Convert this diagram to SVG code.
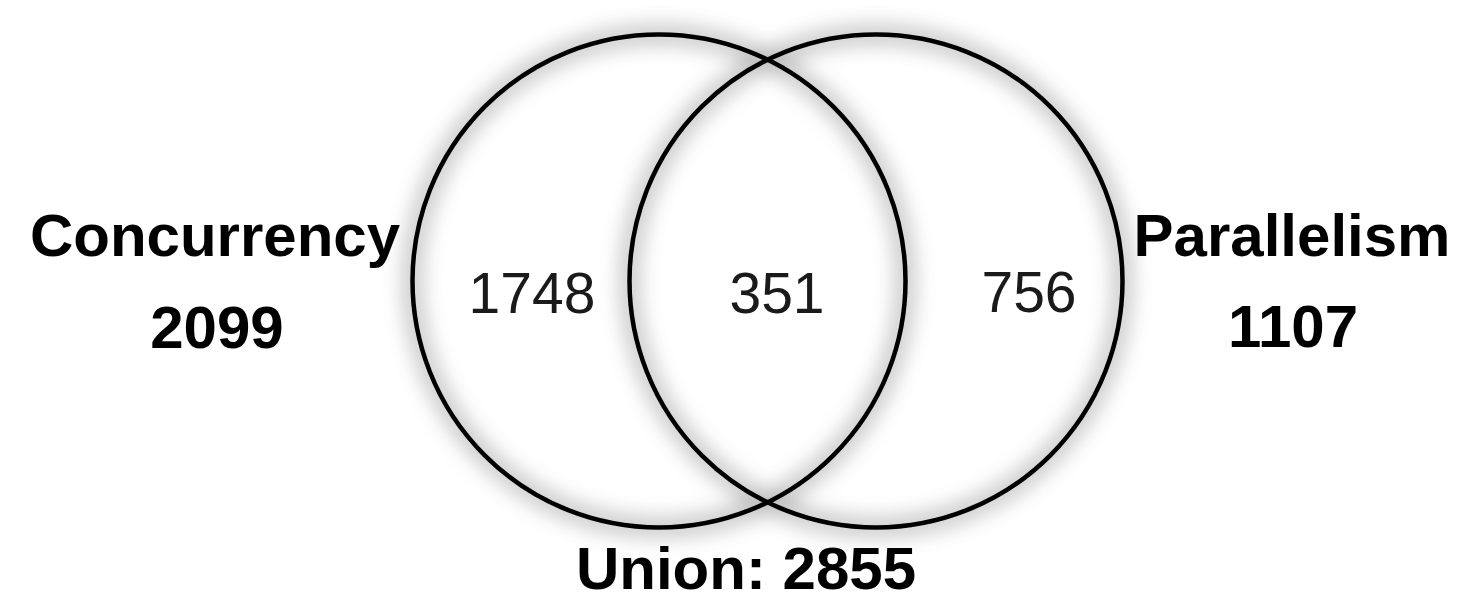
<svg xmlns="http://www.w3.org/2000/svg" width="1459" height="603" viewBox="0 0 1459 603">
<style>
.ring{fill:none;stroke:#000;stroke-width:4.5}
.glow{fill:none;stroke:#8c8c8c;stroke-width:12}
.lbl{font-family:"Liberation Sans",Arial,sans-serif;font-weight:bold;font-size:60px;fill:#000;text-anchor:middle}
.num{font-family:"Liberation Sans",Arial,sans-serif;font-size:57px;fill:#1a1a1a;text-anchor:middle}
</style>
<defs>
<filter id="soft" x="-20%" y="-20%" width="140%" height="140%">
<feGaussianBlur stdDeviation="11"/>
</filter>
</defs>
<rect width="1459" height="603" fill="#fff"/>
<g id="shadows" filter="url(#soft)" opacity="0.8">
<circle class="glow" cx="659" cy="281" r="246.5"/>
<circle class="glow" cx="876" cy="281" r="246.5"/>
</g>
<g id="concurrency">
<circle class="ring" cx="659" cy="281" r="246.5"/>
<text class="lbl" x="215" y="256">Concurrency</text>
<text class="lbl" x="217" y="348">2099</text>
<text class="num" x="532" y="313">1748</text>
</g>
<g id="parallelism">
<circle class="ring" cx="876" cy="281" r="246.5"/>
<text class="lbl" x="1292" y="256">Parallelism</text>
<text class="lbl" x="1293" y="347">1107</text>
<text class="num" x="1029" y="312">756</text>
</g>
<g id="intersection">
<text class="num" x="777" y="313">351</text>
</g>
<g id="union">
<text class="lbl" x="746" y="589">Union: 2855</text>
</g>
<g id="connectors"></g>
</svg>
